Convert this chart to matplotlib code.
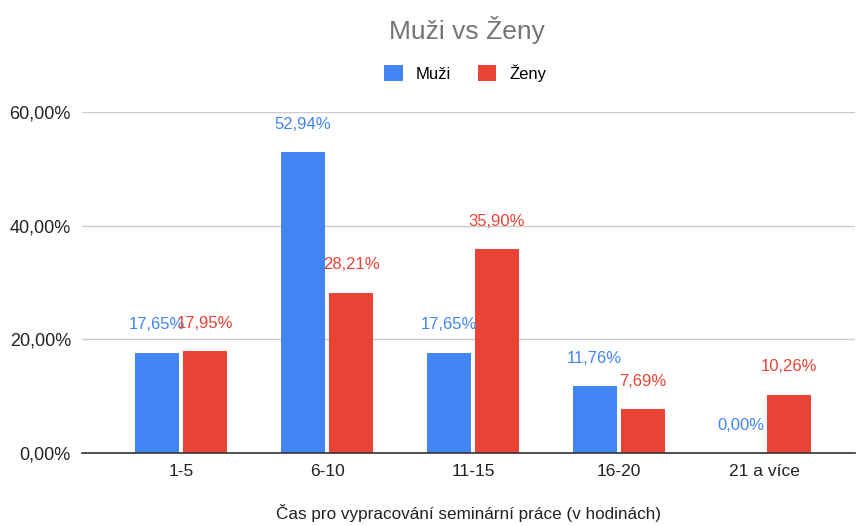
import matplotlib.pyplot as plt
import numpy as np

plt.rcParams['font.family'] = ['Liberation Sans', 'DejaVu Sans']

categories = ['1-5', '6-10', '11-15', '16-20', '21 a více']
muzi = [17.65, 52.94, 17.65, 11.76, 0.00]
zeny = [17.95, 28.21, 35.90, 7.69, 10.26]

blue = '#4285F4'
red = '#EA4335'


def pct(v):
    return '{:.2f}%'.format(v).replace('.', ',')


fig = plt.figure(figsize=(8.58, 5.26), dpi=100)
ax = fig.add_axes([0.0956, 0.1388, 0.901, 0.648])

x = np.arange(len(categories))
width = 0.30
bar1 = ax.bar(x - 0.165, muzi, width, color=blue, label='Muži')
bar2 = ax.bar(x + 0.165, zeny, width, color=red, label='Ženy')


def autolabel(bars, color):
    for bar in bars:
        height = bar.get_height()
        ax.annotate(pct(height),
                    xy=(bar.get_x() + bar.get_width() / 2, height),
                    xytext=(0, 20),  # offset above the bar
                    textcoords='offset points',
                    ha='center', va='center', color=color, fontsize=12)


autolabel(bar1, blue)
autolabel(bar2, red)

ax.set_xlim(-0.68, 4.62)
ax.set_ylim(0, 60)
ax.set_yticks([0, 20, 40, 60])
ax.set_yticklabels([pct(v) for v in [0, 20, 40, 60]])
ax.set_xticks(x)
ax.set_xticklabels(categories)
ax.tick_params(axis='y', length=0, labelsize=13, colors='#222222', pad=8)
ax.tick_params(axis='x', length=0, labelsize=12.5, colors='#222222', pad=8)
ax.grid(axis='y', color='#cccccc', linewidth=1)
ax.set_axisbelow(True)
for s in ['top', 'right', 'left']:
    ax.spines[s].set_visible(False)
ax.spines['bottom'].set_color('#333333')
ax.spines['bottom'].set_linewidth(1.2)
ax.spines['bottom'].set_zorder(5)

ax.set_xlabel('Čas pro vypracování seminární práce (v hodinách)',
              fontsize=12.3, color='#222222', labelpad=18)

fig.text(0.5445, 0.943, 'Muži vs Ženy', ha='center', va='center',
         fontsize=19, color='#757575')
fig.legend(loc='center', bbox_to_anchor=(0.5425, 0.861), ncol=2, frameon=False,
           fontsize=12, handlelength=1.1, handleheight=1.1, columnspacing=1.6,
           handletextpad=0.8)

fig.savefig('out.png', dpi=100)
